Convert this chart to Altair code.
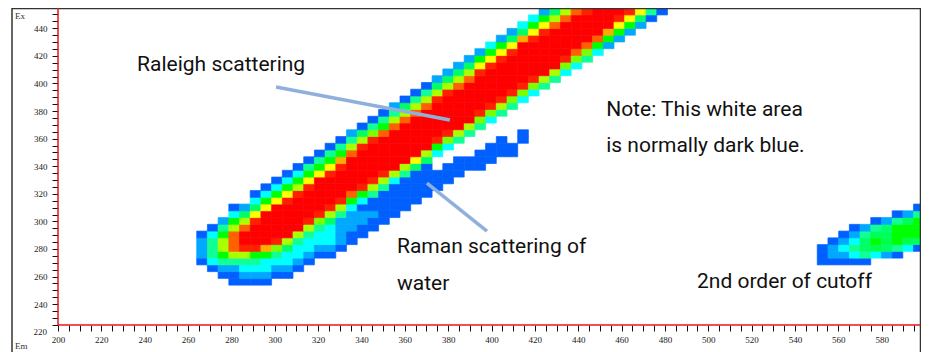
import altair as alt
import pandas as pd

# Grid of the spectrum (nm)
em_first = 264.0
em_step = 4.936
ex_first = 253.8
ex_step = 4.897

# Intensity levels; each row starts at a column index, None = no signal (white)
main_starts = [3, 2, 1, 0, 0, 0, 0, 0, 1, 2, 3, 3, 5, 5, 6, 7, 8, 9, 10, 11, 12, 13, 14, 15, 16, 17, 18, 19, 20, 21, 22, 23, 24, 25, 26, 27, 28, 29, 30, 31, 32]
main_levels = [
    [0, 0, 0, 0],
    [0, 0, 1, 1, 1, 0, 0],
    [0, 1, 1, 2, 2, 2, 1, 1, 0],
    [0, 2, 3, 3, 3, 3, 2, 2, 2, 1, 0],
    [1, 3, 4, 5, 5, 4, 4, 3, 2, 2, 1, 0, 0],
    [1, 3, 5, 8, 9, 9, 7, 4.5, 3.5, 2, 2, 1, 1, 0],
    [1, 3, 5, 8, 10, 10, 10, 9, 5, 3, 2, 2, 2, 1, 0],
    [0, 2, 4, 8, 10, 10, 10, 10, 10, 5, 3, 2, 2, 1, 0, 0],
    [0, 3, 5, 8, 10, 10, 10, 10, 10, 5, 3, 2, 1, 1, 0, 0],
    [1, 4, 5, 9, 10, 10, 10, 10, 9, 4.5, 3.5, 1, 1, 1, 0, 0],
    [2, 3.5, 6, 10, 10, 10, 10, 10, 9, 5, 3, 1, 1, 1, 0, 0],
    [0, 1, 3.5, 6, 10, 10, 10, 10, 10, 9, 5, 2, 0, 0, 0, 0, 0],
    [2, 4, 6, 9, 10, 10, 10, 10, 9, 4, 2, 0, 0, 0, 0, 0],
    [0, 2, 4, 6, 9, 10, 10, 10, 10, 8, 4, 3, 0, 0, 0, 0, 0],
    [0, 2, 4, 5, 9, 10, 10, 10, 10, 9, 5, 3, 0, 0, 0, 0, 0],
    [0, 2, 4, 6, 10, 10, 10, 10, 10, 9, 5, 2, 0, 0, 0, 0, 0],
    [0, 2, 4, 6, 9, 10, 10, 10, 10, 9, 5, 3, 0, 0, 0, 0, 0],
    [0, 3, 4, 6, 9, 10, 10, 10, 10, 10, 5, 3.5, 0, None, 0, 0, 0, 0],
    [0, 3, 4, 7, 10, 10, 10, 10, 10, 10, 6, 3.5, None, None, 0, 0, 0, 0],
    [0, 3, 4, 8, 10, 10, 10, 10, 10, 10, 5, 2, None, None, None, 0, 0, 0, 0],
    [0, 3, 5, 9, 10, 10, 10, 10, 10, 10, 4, 2, None, None, None, 0, 0, 0],
    [0, 3, 5, 9, 10, 10, 10, 10, 10, 9, 4.5, 3, None, None, None, 0, None, 0],
    [1, 3.5, 4.5, 8, 10, 10, 10, 10, 10, 9, 5, 3, None, None, None, None, 0],
    [0, 3, 4, 8, 10, 10, 10, 10, 10, 10, 5, 3],
    [0, 3, 5, 8, 10, 10, 10, 10, 10, 10, 4.5, 2],
    [0, 3, 5, 8, 10, 10, 10, 10, 10, 9, 4.5, 3],
    [1, 3.5, 5, 8, 10, 10, 10, 10, 10, 9, 5, 3],
    [0, 3, 5, 9, 10, 10, 10, 10, 10, 9, 4.5, 2],
    [0, 3, 5, 9, 10, 10, 10, 10, 10, 9, 4.5, 2],
    [0, 3.5, 5, 8, 10, 10, 10, 10, 10, 9, 4.5, 3],
    [1, 3.5, 5, 8, 10, 10, 10, 10, 10, 9, 5, 3],
    [1, 3.5, 5, 9, 10, 10, 10, 10, 10, 10, 5, 2],
    [1, 3.5, 6, 9, 10, 10, 10, 10, 10, 10, 4.5, 2],
    [1, 4, 6, 9, 10, 10, 10, 10, 10, 9, 4.5, 3],
    [1, 4, 6, 9, 10, 10, 10, 10, 10, 8, 4.5, 2],
    [2, 4, 6, 10, 10, 10, 10, 10, 10, 8, 4, 1],
    [1, 3.5, 7, 9, 10, 10, 10, 10, 10, 8, 4, 1],
    [1, 3.5, 6, 9, 10, 10, 10, 10, 10, 7, 4, 1],
    [2, 4, 6, 8, 10, 10, 10, 10, 10, 6, 4, 1],
    [2, 4, 5, 8, 10, 10, 10, 10, 9, 6, 3.5, 0],
    [1, 3.5, 5, 8, 9, 10, 10, 10, 9, 6, 3, 0],
]

# Second-order blob on the right; its rows start at row index 3
cutoff_first_row = 3
cutoff_starts = [58, 58, 58, 59, 60, 61, 63, 65, 67]
cutoff_levels = [
    [0, 0, 0, 0, 0],
    [0, 1, 1, 2, 3, 2, 1, 0],
    [0, 1, 2, 3, 3.5, 3.7, 3.5, 3, 2, 0],
    [0, 1, 2, 3.5, 4, 3.7, 4, 3.7, 3.5],
    [0, 1, 3, 3.6, 3.6, 4, 4, 4],
    [0, 1, 3, 3.4, 4, 4, 4],
    [0, 1, 3, 3.6, 4],
    [0, 1, 3],
    [0],
]

level_domain = [0, 1, 2, 3, 4, 5, 6, 7, 8, 9, 10]
level_colors = ["#0060ff", "#00a8ff", "#00ffff", "#10ff96", "#00ff00", "#aaff00",
                "#ffff00", "#ffaa00", "#ff6000", "#ff2000", "#ff0000"]

# Tick values
x_ticks = list(range(200, 600, 5))
y_ticks = list(range(225, 455, 5))

# Annotations
note_texts = ["Raleigh scattering", "Note: This white area", "is normally dark blue.",
              "Raman scattering of", "water", "2nd order of cutoff"]
note_em = [236.5, 452.9, 452.9, 356.4, 356.4, 494.8]
note_ex = [413.5, 381.0, 354.9, 281.2, 254.4, 255.8]

pointer_em = [300.6, 370.2]
pointer_em2 = [380.8, 397.9]
pointer_ex = [397.4, 327.8]
pointer_ex2 = [373.5, 293.0]

cells = []
for r, (start, levels) in enumerate(zip(main_starts, main_levels)):
    for k, v in enumerate(levels):
        if v is not None:
            cells.append((start + k, r, v))
for r, (start, levels) in enumerate(zip(cutoff_starts, cutoff_levels)):
    for k, v in enumerate(levels):
        if v is not None:
            cells.append((start + k, r + cutoff_first_row, v))

df = pd.DataFrame(cells, columns=["col", "row", "level"])
df["em"] = em_first + df["col"] * em_step
df["em2"] = df["em"] + em_step
df["ex"] = ex_first + df["row"] * ex_step
df["ex2"] = df["ex"] + ex_step

# The page leaves 913 px, so the plot ends at 921 with the same px/nm as the reference
x_scale = alt.Scale(domain=[200, 598.15], nice=False, zero=False)
y_scale = alt.Scale(domain=[224.9, 454.7], nice=False, zero=False)
level_scale = alt.Scale(domain=level_domain, range=level_colors, type="linear")
label_font = "Liberation Serif"

x_axis = alt.Axis(
    values=x_ticks, title=None, grid=False, labelOverlap=False, labelFlush=False,
    labelExpr="datum.value % 20 === 0 ? datum.value : ''",
    labelFont=label_font, labelFontSize=9, labelColor="#222", labelPadding=4, labelAngle=0,
    tickColor="#111111", tickSize=6, tickWidth=1, domain=False,
)
y_axis = alt.Axis(
    values=y_ticks, title=None, grid=False, labelOverlap=False, labelFlush=False,
    labelExpr="datum.value % 20 === 0 ? datum.value : ''",
    labelFont=label_font, labelFontSize=9, labelColor="#222", labelPadding=5,
    tickColor="#111111", tickSize=6, tickWidth=1, domain=False,
)

heat = alt.Chart(df).mark_rect(clip=True, strokeWidth=0.7).encode(
    x=alt.X("em:Q", scale=x_scale, axis=x_axis),
    x2="em2:Q",
    y=alt.Y("ex:Q", scale=y_scale, axis=y_axis),
    y2="ex2:Q",
    color=alt.Color("level:Q", scale=level_scale, legend=None),
    stroke=alt.Stroke("level:Q", scale=level_scale, legend=None),
)

pointers = alt.Chart(pd.DataFrame({
    "em": pointer_em, "em2": pointer_em2, "ex": pointer_ex, "ex2": pointer_ex2,
})).mark_rule(color="#8fb0dc", strokeWidth=3.5).encode(
    x=alt.X("em:Q", scale=x_scale, axis=x_axis), x2="em2:Q",
    y=alt.Y("ex:Q", scale=y_scale, axis=y_axis), y2="ex2:Q",
)

notes = alt.Chart(pd.DataFrame({"t": note_texts, "em": note_em, "ex": note_ex})).mark_text(
    align="left", baseline="middle", font="Roboto", fontSize=21, color="#111",
).encode(
    x=alt.X("em:Q", scale=x_scale, axis=x_axis), y=alt.Y("ex:Q", scale=y_scale, axis=y_axis), text="t:N",
)

low_label = alt.Chart(pd.DataFrame({"ex": [220], "t": ["220"]})).mark_text(
    align="right", baseline="middle", font=label_font, fontSize=9, color="#222",
).encode(
    x=alt.value(-11), y=alt.Y("ex:Q", scale=y_scale, axis=y_axis), text="t:N",
)

frame_top = alt.Chart(pd.DataFrame({"k": [0]})).mark_rule(color="#333", strokeWidth=1.5).encode(
    x=alt.value(-46), x2=alt.value(862.5), y=alt.value(0.5),
)
frame_left = alt.Chart(pd.DataFrame({"k": [0]})).mark_rule(color="#333", strokeWidth=1.5).encode(
    x=alt.value(-46), y=alt.value(0), y2=alt.value(344))
frame_right = alt.Chart(pd.DataFrame({"k": [0]})).mark_rule(color="#333", strokeWidth=1.5).encode(
    x=alt.value(862.5), y=alt.value(0), y2=alt.value(344))

# Red base lines along both axes
base_x = alt.Chart(pd.DataFrame({"k": [0]})).mark_rule(color="#e8141c", strokeWidth=1.5).encode(
    x=alt.value(0), x2=alt.value(862.5), y=alt.value(317))
base_y = alt.Chart(pd.DataFrame({"k": [0]})).mark_rule(color="#e8141c", strokeWidth=1.5).encode(
    x=alt.value(0), y=alt.value(0), y2=alt.value(317))

corner_texts = ["Ex", "Em"]
corner_y = [8, 338]
corner_ex = alt.Chart(pd.DataFrame({"t": [corner_texts[0]]})).mark_text(
    align="left", baseline="middle", font=label_font, fontSize=9, color="#333",
).encode(x=alt.value(-43), y=alt.value(corner_y[0]), text="t:N")
corner_em = alt.Chart(pd.DataFrame({"t": [corner_texts[1]]})).mark_text(
    align="left", baseline="middle", font=label_font, fontSize=9, color="#333",
).encode(x=alt.value(-43), y=alt.value(corner_y[1]), text="t:N")

chart = alt.layer(heat, pointers, notes, low_label, frame_top, frame_left, frame_right, base_x, base_y, corner_ex, corner_em).properties(
    width=863, height=317,
    autosize=alt.AutoSizeParams(type="none"),
    padding={"left": 50, "top": 0, "right": 0, "bottom": 27},
    background="white",
).configure_view(stroke=None)

chart.save("out.html", embed_options={"renderer": "svg", "actions": False})
